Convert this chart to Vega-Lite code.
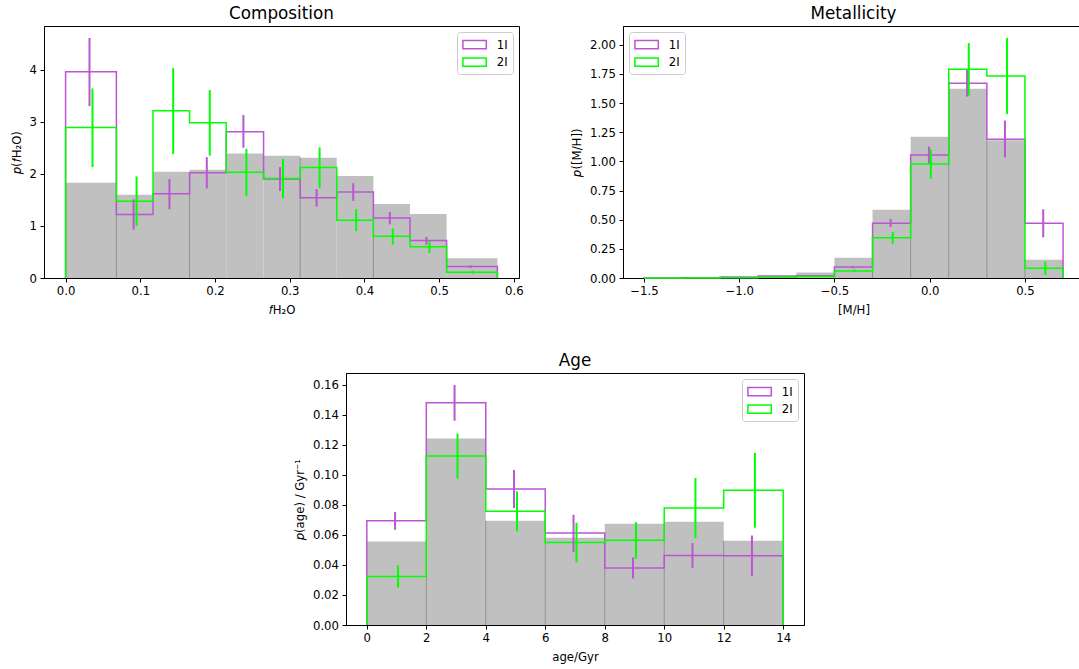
{
  "$schema": "https://vega.github.io/schema/vega-lite/v6.json",
  "background": "white",
  "padding": {"left": 10, "top": 5, "right": 0, "bottom": 0},
  "config": {
    "font": "DejaVu Sans",
    "view": {"stroke": "#000", "strokeWidth": 1},
    "axis": {
      "domain": true, "domainColor": "#000", "domainWidth": 1, "grid": false,
      "tickColor": "#000", "tickSize": 4, "tickWidth": 1, "tickCount": 50,
      "labelFont": "DejaVu Sans", "labelFontSize": 11.7, "labelColor": "#000", "labelPadding": 3.5,
      "labelFlush": false, "labelOverlap": false,
      "titleFont": "DejaVu Sans", "titleFontSize": 11.7, "titleFontWeight": "normal", "titleColor": "#000",
      "titlePadding": 7, "zindex": 1
    },
    "title": {"font": "DejaVu Sans", "fontSize": 16.8, "fontWeight": "normal", "color": "#000", "offset": 3, "baseline": "alphabetic", "anchor": "middle"},
    "legend": {
      "title": null, "offset": 6,
      "symbolType": "M-1,-0.6H2.44V0.6H-1Z", "symbolSize": 185, "symbolStrokeWidth": 1.5, "symbolFillColor": "transparent",
      "labelFont": "DejaVu Sans", "labelFontSize": 11.7, "labelColor": "#000", "labelOffset": 19,
      "padding": 4.7, "rowPadding": 1.5, "strokeColor": "#cccccc", "fillColor": "rgba(255,255,255,0.8)", "cornerRadius": 3
    }
  },
  "datasets": {
    "comp_bins": [
      {"x0": 0.000, "x1": 0.068, "ref": 1.83},
      {"x0": 0.068, "x1": 0.117, "ref": 1.60},
      {"x0": 0.117, "x1": 0.166, "ref": 2.04},
      {"x0": 0.166, "x1": 0.215, "ref": 2.08},
      {"x0": 0.215, "x1": 0.265, "ref": 2.39},
      {"x0": 0.265, "x1": 0.314, "ref": 2.35},
      {"x0": 0.314, "x1": 0.363, "ref": 2.31},
      {"x0": 0.363, "x1": 0.412, "ref": 1.96},
      {"x0": 0.412, "x1": 0.461, "ref": 1.42},
      {"x0": 0.461, "x1": 0.510, "ref": 1.23},
      {"x0": 0.510, "x1": 0.578, "ref": 0.38}
    ],
    "comp_edges": [
      {"x": 0.068, "top": 1.60},
      {"x": 0.166, "top": 2.04},
      {"x": 0.314, "top": 2.31},
      {"x": 0.412, "top": 1.42}
    ],
    "comp_steps": [
      {"object": "1I", "x": 0.000, "p": 0},
      {"object": "1I", "x": 0.000, "p": 3.96},
      {"object": "1I", "x": 0.068, "p": 1.22},
      {"object": "1I", "x": 0.117, "p": 1.62},
      {"object": "1I", "x": 0.166, "p": 2.02},
      {"object": "1I", "x": 0.215, "p": 2.81},
      {"object": "1I", "x": 0.265, "p": 1.90},
      {"object": "1I", "x": 0.314, "p": 1.54},
      {"object": "1I", "x": 0.363, "p": 1.65},
      {"object": "1I", "x": 0.412, "p": 1.15},
      {"object": "1I", "x": 0.461, "p": 0.72},
      {"object": "1I", "x": 0.510, "p": 0.22},
      {"object": "1I", "x": 0.578, "p": 0},
      {"object": "2I", "x": 0.000, "p": 0},
      {"object": "2I", "x": 0.000, "p": 2.89},
      {"object": "2I", "x": 0.068, "p": 1.475},
      {"object": "2I", "x": 0.117, "p": 3.21},
      {"object": "2I", "x": 0.166, "p": 2.98},
      {"object": "2I", "x": 0.215, "p": 2.03},
      {"object": "2I", "x": 0.265, "p": 1.91},
      {"object": "2I", "x": 0.314, "p": 2.12},
      {"object": "2I", "x": 0.363, "p": 1.11},
      {"object": "2I", "x": 0.412, "p": 0.80},
      {"object": "2I", "x": 0.461, "p": 0.60},
      {"object": "2I", "x": 0.510, "p": 0.11},
      {"object": "2I", "x": 0.578, "p": 0}
    ],
    "comp_err": [
      {"object": "1I", "x": 0.032, "lo": 3.30, "hi": 4.61},
      {"object": "1I", "x": 0.091, "lo": 0.93, "hi": 1.51},
      {"object": "1I", "x": 0.139, "lo": 1.32, "hi": 1.90},
      {"object": "1I", "x": 0.189, "lo": 1.72, "hi": 2.32},
      {"object": "1I", "x": 0.238, "lo": 2.50, "hi": 3.13},
      {"object": "1I", "x": 0.287, "lo": 1.67, "hi": 2.13},
      {"object": "1I", "x": 0.336, "lo": 1.37, "hi": 1.71},
      {"object": "1I", "x": 0.385, "lo": 1.48, "hi": 1.82},
      {"object": "1I", "x": 0.434, "lo": 1.03, "hi": 1.27},
      {"object": "1I", "x": 0.483, "lo": 0.64, "hi": 0.79},
      {"object": "1I", "x": 0.542, "lo": 0.19, "hi": 0.24},
      {"object": "2I", "x": 0.036, "lo": 2.13, "hi": 3.64},
      {"object": "2I", "x": 0.095, "lo": 1.00, "hi": 1.95},
      {"object": "2I", "x": 0.144, "lo": 2.38, "hi": 4.03},
      {"object": "2I", "x": 0.193, "lo": 2.35, "hi": 3.61},
      {"object": "2I", "x": 0.242, "lo": 1.57, "hi": 2.48},
      {"object": "2I", "x": 0.291, "lo": 1.53, "hi": 2.29},
      {"object": "2I", "x": 0.340, "lo": 1.73, "hi": 2.51},
      {"object": "2I", "x": 0.389, "lo": 0.90, "hi": 1.32},
      {"object": "2I", "x": 0.438, "lo": 0.64, "hi": 0.95},
      {"object": "2I", "x": 0.487, "lo": 0.48, "hi": 0.71},
      {"object": "2I", "x": 0.545, "lo": 0.08, "hi": 0.14}
    ],
    "metal_bins": [
      {"x0": -1.5, "x1": -1.3, "ref": 0.002},
      {"x0": -1.3, "x1": -1.1, "ref": 0.003},
      {"x0": -1.1, "x1": -0.9, "ref": 0.005},
      {"x0": -0.9, "x1": -0.7, "ref": 0.014},
      {"x0": -0.7, "x1": -0.5, "ref": 0.048},
      {"x0": -0.5, "x1": -0.3, "ref": 0.174},
      {"x0": -0.3, "x1": -0.1, "ref": 0.586},
      {"x0": -0.1, "x1": 0.1, "ref": 1.211},
      {"x0": 0.1, "x1": 0.3, "ref": 1.623},
      {"x0": 0.3, "x1": 0.5, "ref": 1.18},
      {"x0": 0.5, "x1": 0.7, "ref": 0.157}
    ],
    "metal_edges": [
      {"x": -0.7, "top": 0.014},
      {"x": -0.5, "top": 0.048},
      {"x": -0.3, "top": 0.174},
      {"x": -0.1, "top": 0.586},
      {"x": 0.1, "top": 1.211},
      {"x": 0.3, "top": 1.18},
      {"x": 0.5, "top": 0.157}
    ],
    "metal_steps": [
      {"object": "1I", "x": -1.5, "p": 0},
      {"object": "1I", "x": -1.5, "p": 0.001},
      {"object": "1I", "x": -1.3, "p": 0.003},
      {"object": "1I", "x": -1.1, "p": 0.008},
      {"object": "1I", "x": -0.9, "p": 0.017},
      {"object": "1I", "x": -0.7, "p": 0.019},
      {"object": "1I", "x": -0.5, "p": 0.094},
      {"object": "1I", "x": -0.3, "p": 0.47},
      {"object": "1I", "x": -0.1, "p": 1.055},
      {"object": "1I", "x": 0.1, "p": 1.669},
      {"object": "1I", "x": 0.3, "p": 1.19},
      {"object": "1I", "x": 0.5, "p": 0.469},
      {"object": "1I", "x": 0.7, "p": 0},
      {"object": "2I", "x": -1.5, "p": 0},
      {"object": "2I", "x": -1.5, "p": 0.0},
      {"object": "2I", "x": -1.3, "p": 0.001},
      {"object": "2I", "x": -1.1, "p": 0.003},
      {"object": "2I", "x": -0.9, "p": 0.006},
      {"object": "2I", "x": -0.7, "p": 0.012},
      {"object": "2I", "x": -0.5, "p": 0.06},
      {"object": "2I", "x": -0.3, "p": 0.346},
      {"object": "2I", "x": -0.1, "p": 0.977},
      {"object": "2I", "x": 0.1, "p": 1.789},
      {"object": "2I", "x": 0.3, "p": 1.731},
      {"object": "2I", "x": 0.5, "p": 0.083},
      {"object": "2I", "x": 0.7, "p": 0}
    ],
    "metal_err": [
      {"object": "1I", "x": -0.405, "lo": 0.083, "hi": 0.103},
      {"object": "1I", "x": -0.205, "lo": 0.437, "hi": 0.506},
      {"object": "1I", "x": -0.004, "lo": 0.986, "hi": 1.126},
      {"object": "1I", "x": 0.196, "lo": 1.555, "hi": 1.783},
      {"object": "1I", "x": 0.395, "lo": 1.034, "hi": 1.349},
      {"object": "1I", "x": 0.596, "lo": 0.349, "hi": 0.589},
      {"object": "2I", "x": -0.394, "lo": 0.049, "hi": 0.074},
      {"object": "2I", "x": -0.194, "lo": 0.294, "hi": 0.394},
      {"object": "2I", "x": 0.006, "lo": 0.851, "hi": 1.100},
      {"object": "2I", "x": 0.205, "lo": 1.563, "hi": 2.014},
      {"object": "2I", "x": 0.406, "lo": 1.406, "hi": 2.057},
      {"object": "2I", "x": 0.607, "lo": 0.026, "hi": 0.140}
    ],
    "age_bins": [
      {"x0": 0, "x1": 2, "ref": 0.0556},
      {"x0": 2, "x1": 4, "ref": 0.1242},
      {"x0": 4, "x1": 6, "ref": 0.0694},
      {"x0": 6, "x1": 8, "ref": 0.0581},
      {"x0": 8, "x1": 10, "ref": 0.0674},
      {"x0": 10, "x1": 12, "ref": 0.0688},
      {"x0": 12, "x1": 14, "ref": 0.0561}
    ],
    "age_edges": [
      {"x": 2, "top": 0.0556},
      {"x": 4, "top": 0.0694},
      {"x": 6, "top": 0.0581},
      {"x": 8, "top": 0.0581},
      {"x": 10, "top": 0.0674},
      {"x": 12, "top": 0.0561}
    ],
    "age_steps": [
      {"object": "1I", "x": 0, "p": 0},
      {"object": "1I", "x": 0, "p": 0.0694},
      {"object": "1I", "x": 2, "p": 0.148},
      {"object": "1I", "x": 4, "p": 0.0906},
      {"object": "1I", "x": 6, "p": 0.0612},
      {"object": "1I", "x": 8, "p": 0.038},
      {"object": "1I", "x": 10, "p": 0.0463},
      {"object": "1I", "x": 12, "p": 0.0461},
      {"object": "1I", "x": 14, "p": 0},
      {"object": "2I", "x": 0, "p": 0},
      {"object": "2I", "x": 0, "p": 0.0323},
      {"object": "2I", "x": 2, "p": 0.1126},
      {"object": "2I", "x": 4, "p": 0.0757},
      {"object": "2I", "x": 6, "p": 0.055},
      {"object": "2I", "x": 8, "p": 0.0565},
      {"object": "2I", "x": 10, "p": 0.0779},
      {"object": "2I", "x": 12, "p": 0.0897},
      {"object": "2I", "x": 14, "p": 0}
    ],
    "age_err": [
      {"object": "1I", "x": 0.95, "lo": 0.0634, "hi": 0.0752},
      {"object": "1I", "x": 2.95, "lo": 0.136, "hi": 0.1598},
      {"object": "1I", "x": 4.95, "lo": 0.0779, "hi": 0.1033},
      {"object": "1I", "x": 6.95, "lo": 0.0485, "hi": 0.0734},
      {"object": "1I", "x": 8.95, "lo": 0.031, "hi": 0.045},
      {"object": "1I", "x": 10.95, "lo": 0.038, "hi": 0.0545},
      {"object": "1I", "x": 12.95, "lo": 0.0325, "hi": 0.0596},
      {"object": "2I", "x": 1.05, "lo": 0.0249, "hi": 0.0398},
      {"object": "2I", "x": 3.05, "lo": 0.0975, "hi": 0.1275},
      {"object": "2I", "x": 5.05, "lo": 0.0623, "hi": 0.089},
      {"object": "2I", "x": 7.05, "lo": 0.0418, "hi": 0.0681},
      {"object": "2I", "x": 9.05, "lo": 0.0441, "hi": 0.0685},
      {"object": "2I", "x": 11.05, "lo": 0.0579, "hi": 0.0979},
      {"object": "2I", "x": 13.05, "lo": 0.0648, "hi": 0.1146}
    ]
  },
  "spacing": 35,
  "bounds": "full",
  "resolve": {"scale": {"color": "independent"}, "legend": {"color": "independent"}},
  "vconcat": [
    {
      "spacing": 104,
      "bounds": "flush",
      "resolve": {"scale": {"color": "independent"}, "legend": {"color": "independent"}},
      "hconcat": [
        {
          "width": 475, "height": 252,
          "title": "Composition",
          "layer": [
            {
              "data": {"name": "comp_bins"},
              "mark": {"type": "rect", "color": "#c0c0c0"},
              "encoding": {
                "x": {"field": "x0", "type": "quantitative", "title": "\uD835\uDC53H\u2082O",
                      "scale": {"domain": [-0.0289, 0.6069], "nice": false, "zero": false},
                      "axis": {"values": [0, 0.1, 0.2, 0.3, 0.4, 0.5, 0.6], "format": ".1f", "tickCount": 50, "labelOverlap": false}},
                "x2": {"field": "x1"},
                "y": {"field": "ref", "type": "quantitative", "title": "\uD835\uDC5D(\uD835\uDC53H\u2082O)",
                      "scale": {"domain": [0, 4.84], "nice": false, "zero": false},
                      "axis": {"values": [0, 1, 2, 3, 4], "format": "d", "tickCount": 50, "labelOverlap": false}},
                "y2": {"datum": 0}
              }
            },
            {
              "data": {"name": "comp_edges"},
              "mark": {"type": "rule", "color": "#8f8f8f", "strokeWidth": 1},
              "encoding": {
                "x": {"field": "x", "type": "quantitative", "title": "\uD835\uDC53H\u2082O"},
                "y": {"field": "top", "type": "quantitative", "title": "\uD835\uDC5D(\uD835\uDC53H\u2082O)"},
                "y2": {"datum": 0}
              }
            },
            {
              "data": {"name": "comp_steps"},
              "mark": {"type": "line", "interpolate": "step-after", "strokeWidth": 1.5},
              "encoding": {
                "x": {"field": "x", "type": "quantitative", "title": "\uD835\uDC53H\u2082O"},
                "y": {"field": "p", "type": "quantitative", "title": "\uD835\uDC5D(\uD835\uDC53H\u2082O)"},
                "color": {"field": "object", "type": "nominal",
                          "scale": {"domain": ["1I", "2I"], "range": ["#ba55d3", "#00ff00"]},
                          "legend": {"orient": "top-right"}},
                "order": {"value": null}
              }
            },
            {
              "data": {"name": "comp_err"},
              "mark": {"type": "rule", "strokeWidth": 2},
              "encoding": {
                "x": {"field": "x", "type": "quantitative", "title": "\uD835\uDC53H\u2082O"},
                "y": {"field": "lo", "type": "quantitative", "title": "\uD835\uDC5D(\uD835\uDC53H\u2082O)"},
                "y2": {"field": "hi"},
                "color": {"field": "object", "type": "nominal"}
              }
            }
          ]
        },
        {
          "width": 461, "height": 252,
          "title": "Metallicity",
          "layer": [
            {
              "data": {"name": "metal_bins"},
              "mark": {"type": "rect", "color": "#c0c0c0"},
              "encoding": {
                "x": {"field": "x0", "type": "quantitative", "title": "[M/H]",
                      "scale": {"domain": [-1.61, 0.81], "nice": false, "zero": false},
                      "axis": {"values": [-1.5, -1, -0.5, 0, 0.5], "tickCount": 50, "labelOverlap": false, "labelExpr": "replace(format(datum.value, '.1f'), '-', '\u2212')"}},
                "x2": {"field": "x1"},
                "y": {"field": "ref", "type": "quantitative", "title": "\uD835\uDC5D([M/H])",
                      "scale": {"domain": [0, 2.16], "nice": false, "zero": false},
                      "axis": {"values": [0, 0.25, 0.5, 0.75, 1, 1.25, 1.5, 1.75, 2], "format": ".2f", "tickCount": 50, "labelOverlap": false}},
                "y2": {"datum": 0}
              }
            },
            {
              "data": {"name": "metal_edges"},
              "mark": {"type": "rule", "color": "#8f8f8f", "strokeWidth": 1},
              "encoding": {
                "x": {"field": "x", "type": "quantitative", "title": "[M/H]"},
                "y": {"field": "top", "type": "quantitative", "title": "\uD835\uDC5D([M/H])"},
                "y2": {"datum": 0}
              }
            },
            {
              "data": {"name": "metal_steps"},
              "mark": {"type": "line", "interpolate": "step-after", "strokeWidth": 1.5},
              "encoding": {
                "x": {"field": "x", "type": "quantitative", "title": "[M/H]"},
                "y": {"field": "p", "type": "quantitative", "title": "\uD835\uDC5D([M/H])"},
                "color": {"field": "object", "type": "nominal",
                          "scale": {"domain": ["1I", "2I"], "range": ["#ba55d3", "#00ff00"]},
                          "legend": {"orient": "top-left"}},
                "order": {"value": null}
              }
            },
            {
              "data": {"name": "metal_err"},
              "mark": {"type": "rule", "strokeWidth": 2},
              "encoding": {
                "x": {"field": "x", "type": "quantitative", "title": "[M/H]"},
                "y": {"field": "lo", "type": "quantitative", "title": "\uD835\uDC5D([M/H])"},
                "y2": {"field": "hi"},
                "color": {"field": "object", "type": "nominal"}
              }
            }
          ]
        }
      ]
    },
    {
      "spacing": 0,
      "bounds": "flush",
      "resolve": {"scale": {"color": "independent"}, "legend": {"color": "independent"}},
      "hconcat": [
        {
          "width": 302, "height": 252,
          "view": {"stroke": null},
          "data": {"values": []},
          "mark": "point"
        },
        {
          "width": 458, "height": 252,
          "title": "Age",
          "layer": [
            {
              "data": {"name": "age_bins"},
              "mark": {"type": "rect", "color": "#c0c0c0"},
              "encoding": {
                "x": {"field": "x0", "type": "quantitative", "title": "age/Gyr",
                      "scale": {"domain": [-0.7, 14.7], "nice": false, "zero": false},
                      "axis": {"values": [0, 2, 4, 6, 8, 10, 12, 14], "format": "d", "tickCount": 50, "labelOverlap": false}},
                "x2": {"field": "x1"},
                "y": {"field": "ref", "type": "quantitative", "title": "\uD835\uDC5D(age) / Gyr\u207B\u00B9",
                      "scale": {"domain": [0, 0.1678], "nice": false, "zero": false},
                      "axis": {"values": [0, 0.02, 0.04, 0.06, 0.08, 0.1, 0.12, 0.14, 0.16], "format": ".2f", "tickCount": 50, "labelOverlap": false}},
                "y2": {"datum": 0}
              }
            },
            {
              "data": {"name": "age_edges"},
              "mark": {"type": "rule", "color": "#8f8f8f", "strokeWidth": 1},
              "encoding": {
                "x": {"field": "x", "type": "quantitative", "title": "age/Gyr"},
                "y": {"field": "top", "type": "quantitative", "title": "\uD835\uDC5D(age) / Gyr\u207B\u00B9"},
                "y2": {"datum": 0}
              }
            },
            {
              "data": {"name": "age_steps"},
              "mark": {"type": "line", "interpolate": "step-after", "strokeWidth": 1.5},
              "encoding": {
                "x": {"field": "x", "type": "quantitative", "title": "age/Gyr"},
                "y": {"field": "p", "type": "quantitative", "title": "\uD835\uDC5D(age) / Gyr\u207B\u00B9"},
                "color": {"field": "object", "type": "nominal",
                          "scale": {"domain": ["1I", "2I"], "range": ["#ba55d3", "#00ff00"]},
                          "legend": {"orient": "top-right"}},
                "order": {"value": null}
              }
            },
            {
              "data": {"name": "age_err"},
              "mark": {"type": "rule", "strokeWidth": 2},
              "encoding": {
                "x": {"field": "x", "type": "quantitative", "title": "age/Gyr"},
                "y": {"field": "lo", "type": "quantitative", "title": "\uD835\uDC5D(age) / Gyr\u207B\u00B9"},
                "y2": {"field": "hi"},
                "color": {"field": "object", "type": "nominal"}
              }
            }
          ]
        }
      ]
    }
  ]
}
